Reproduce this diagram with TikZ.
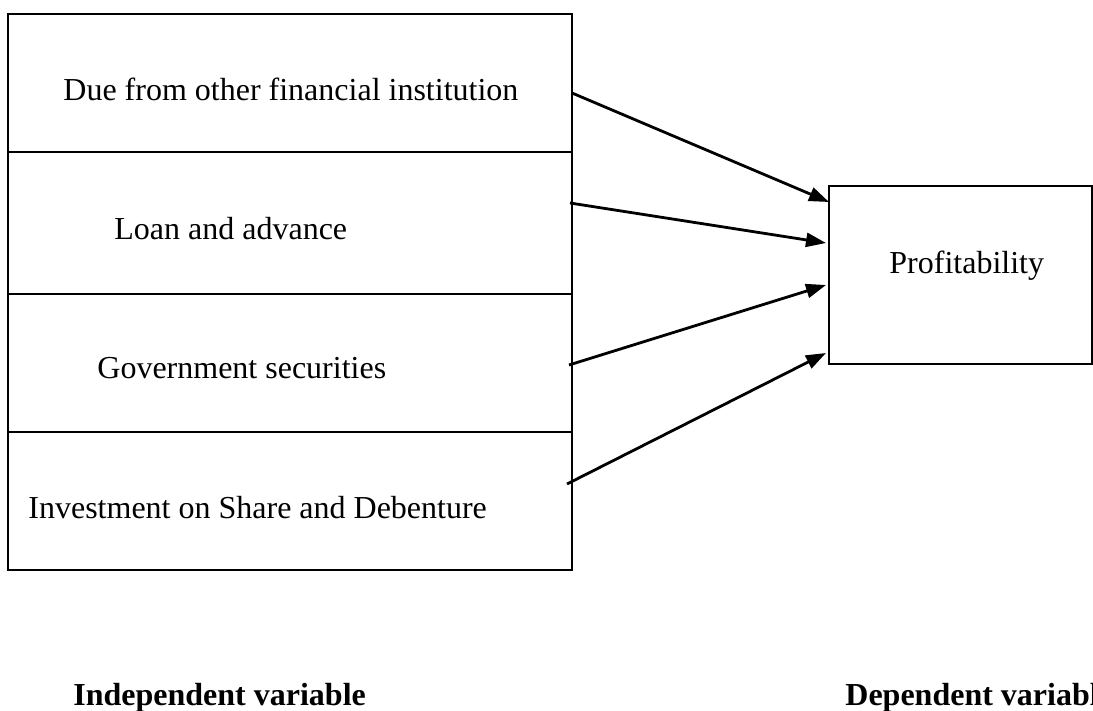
\documentclass[tikz,border=0pt]{standalone}
\usepackage{fontspec}
\setmainfont{Liberation Serif}
\usetikzlibrary{arrows.meta,positioning,calc}

\begin{document}
\begin{tikzpicture}[
    x=0.5pt,
    y=-0.5pt,
    font=\fontsize{16}{19}\selectfont,
    node distance=0pt,
    varbox/.style={
        draw,
        line width=1.2pt,
        minimum width=282pt,
        outer sep=0pt,
        inner sep=0pt
    },
    lbl/.style={
        anchor=base west,
        inner sep=0pt
    },
    heading/.style={
        anchor=base west,
        inner sep=0pt,
        font=\fontsize{16}{19}\selectfont\bfseries
    },
    arr/.style={
        -{Triangle[length=10pt,width=7pt]},
        line width=1.4pt
    }
]

\clip (0,0) rectangle (1093,711);

% independent variables
\node[varbox,minimum height=69pt] (due) at (290,83) {};
\node[varbox,minimum height=71pt,below=of due] (loan) {};
\node[varbox,minimum height=69pt,below=of loan] (govt) {};
\node[varbox,minimum height=69pt,below=of govt] (invest) {};

\node[lbl] (duetxt) at (63,101) {Due from other financial institution};
\node[lbl] (loantxt) at (114,240) {Loan and advance};
\node[lbl] (govttxt) at (97,379) {Government securities};
\node[lbl] (investtxt) at (28,518) {Investment on Share and Debenture};

% dependent variable
\node[
    draw,
    line width=0.7pt,
    minimum width=131.5pt,
    minimum height=89pt,
    outer sep=0pt
] (profit) at (960.5,275) {};
\node[lbl] (profittxt) at (889,274) {Profitability};

\draw[arr] ($(due.east)+(0,10)$)--($(profit.north west)+(0,16)$);
\draw[arr] ($(loan.east)+(-2,-20)$)--($(profit.west)+(-3,-32)$);
\draw[arr] ($(govt.east)+(-3,2)$)--($(profit.west)+(-3,10)$);
\draw[arr] ($(invest.east)+(-5,-17)$)--($(profit.west)+(-3,78)$);

\node[heading] (indep) at (73,705) {Independent variable};
\node[heading] (dep) at (845,705) {Dependent variable};

\end{tikzpicture}
\end{document}
